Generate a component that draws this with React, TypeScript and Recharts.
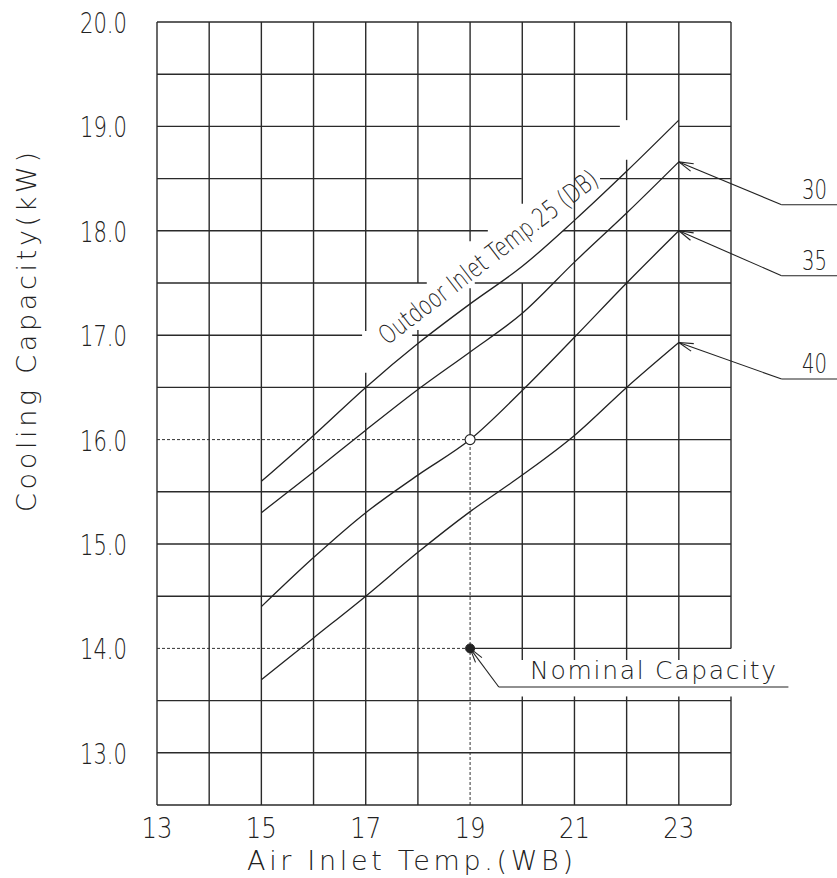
import React from 'react';
import { LineChart, Line, XAxis, YAxis, ReferenceLine, ReferenceDot } from 'recharts';

// Air inlet wet-bulb temperature (°C WB)
const airInletWB = [15, 16, 17, 18, 19, 20, 21, 22, 23];
// Cooling capacity (kW) per outdoor inlet temperature (°C DB)
const capOutdoor25 = [15.6, 16.04, 16.5, 16.92, 17.3, 17.66, 18.1, 18.57, 19.06];
const capOutdoor30 = [15.3, 15.69, 16.09, 16.48, 16.84, 17.21, 17.7, 18.17, 18.66];
const capOutdoor35 = [14.4, 14.87, 15.3, 15.66, 16.0, 16.47, 16.98, 17.5, 18.0];
const capOutdoor40 = [13.7, 14.1, 14.5, 14.92, 15.31, 15.66, 16.04, 16.5, 16.93];

const xTicks = [13, 15, 17, 19, 21, 23];
const yTicks = [13, 14, 15, 16, 17, 18, 19, 20];
const curveLabels = ['30', '35', '40'];
const curveEnds = [capOutdoor30, capOutdoor35, capOutdoor40].map((s) => s[s.length - 1]);
const ratedPoint = { x: 19, y: 16 };
const nominalPoint = { x: 19, y: 14 };

const X_MIN = 13, X_MAX = 24, Y_MIN = 12.5, Y_MAX = 20;

// where the leader lines bend, in data units
const leaderKnees = [18.25, 17.57, 16.58];
const KNEE_X = 24.97, LEADER_END_X = 26.1, LABEL_X = 25.6;
const nominalKnee = { x: 19.55, y: 13.63, endX: 25.1, textX: 20.15 };
const outdoorTextAnchor = { x: 17.41, y: 16.9 };

// gaps cleared in the grid around the annotations
const vGaps: Record<number, [number, number][]> = {
  17: [[16.64, 17.04]],
  18: [[17.05, 17.5]],
  19: [[17.45, 17.9]],
  20: [[17.5, 18.26], [13.54, 13.89]],
  21: [[13.54, 13.89]],
  22: [[18.68, 19.06], [13.54, 13.89]],
  23: [[13.54, 13.89]],
  24: [[13.54, 14.0]],
};
const hGaps: Record<number, [number, number][]> = {
  19: [[21.87, 23.0]],
  18.5: [[19.99, 21.49]],
  18: [[19.34, 20.78]],
  17.5: [[18.17, 19.09]],
  17: [[16.93, 17.89]],
};

const data = airInletWB.map((t, i) => ({
  t,
  c25: capOutdoor25[i],
  c30: capOutdoor30[i],
  c35: capOutdoor35[i],
  c40: capOutdoor40[i],
}));

const INK = '#222';
const FONT = '"DejaVu Sans", sans-serif';

function subtract(lo: number, hi: number, gaps: [number, number][]) {
  const out: [number, number][] = [];
  let cur = lo;
  [...gaps].sort((a, b) => a[0] - b[0]).forEach(([a, b]) => {
    if (a > cur) out.push([cur, a]);
    cur = Math.max(cur, b);
  });
  if (cur < hi) out.push([cur, hi]);
  return out;
}

type Seg = { x1: number; y1: number; x2: number; y2: number; dashed?: boolean };

function buildGrid(): Seg[] {
  const segs: Seg[] = [];
  for (let x = X_MIN; x <= X_MAX; x++) {
    const gaps = [...(vGaps[x] || [])];
    if (x === ratedPoint.x) {
      gaps.push([Y_MIN, ratedPoint.y]);
      segs.push({ x1: x, y1: Y_MIN, x2: x, y2: ratedPoint.y, dashed: true });
    }
    subtract(Y_MIN, Y_MAX, gaps).forEach(([a, b]) => segs.push({ x1: x, y1: a, x2: x, y2: b }));
  }
  for (let y = Y_MIN; y <= Y_MAX + 1e-9; y += 0.5) {
    const gaps = [...(hGaps[y] || [])];
    if (y === ratedPoint.y || y === nominalPoint.y) {
      gaps.push([X_MIN, ratedPoint.x]);
      segs.push({ x1: X_MIN, y1: y, x2: ratedPoint.x, y2: y, dashed: true });
    }
    subtract(X_MIN, X_MAX, gaps).forEach(([a, b]) => segs.push({ x1: a, y1: y, x2: b, y2: y }));
  }
  return segs;
}

const gridSegs = buildGrid();

const ArrowLeader = (props: any) => {
  const { x1, y1, x2, y2 } = props;
  const ang = Math.atan2(y2 - y1, x2 - x1);
  const len = 15;
  const spread = 0.27;
  const wa = [x1 + len * Math.cos(ang - spread), y1 + len * Math.sin(ang - spread)];
  const wb = [x1 + len * Math.cos(ang + spread), y1 + len * Math.sin(ang + spread)];
  return (
    <g stroke={INK} strokeWidth={1.1} fill="none">
      <line x1={x1} y1={y1} x2={x2} y2={y2} />
      <line x1={x1} y1={y1} x2={wa[0]} y2={wa[1]} />
      <line x1={x1} y1={y1} x2={wb[0]} y2={wb[1]} />
    </g>
  );
};

const textProps = {
  fontFamily: FONT,
  fontWeight: 200,
  fill: INK,
};

const XTick = (props: any) => {
  const { x, y, payload } = props;
  return (
    <text x={x} y={y + 33} textAnchor="middle" fontSize={29} textLength={31} lengthAdjust="spacingAndGlyphs" {...textProps}>
      {payload.value}
    </text>
  );
};

const YTick = (props: any) => {
  const { x, y, payload } = props;
  return (
    <text x={x - 30} y={y + 11} textAnchor="end" fontSize={29} textLength={47} lengthAdjust="spacingAndGlyphs" {...textProps}>
      {Number(payload.value).toFixed(1)}
    </text>
  );
};

export default function App() {
  return (
    <div style={{ width: 837, height: 878, background: '#fff' }}>
      <style>{'body{margin:0;background:#fff}'}</style>
      <LineChart width={837} height={878} data={data} margin={{ top: 22, right: 106, bottom: 0, left: 0 }}>
        <XAxis
          type="number"
          dataKey="t"
          domain={[X_MIN, X_MAX]}
          ticks={xTicks}
          allowDataOverflow
          axisLine={false}
          tickLine={false}
          tickSize={0}
          tickMargin={0}
          height={73}
          tick={<XTick />}
          label={{
            content: (p: any) => {
              const vb = p.viewBox;
              return (
                <text x={vb.x + 90} y={vb.y + 65} fontSize={27} textLength={326} lengthAdjust="spacing" {...textProps}>
                  Air Inlet Temp.(WB)
                </text>
              );
            },
          }}
        />
        <YAxis
          type="number"
          domain={[Y_MIN, Y_MAX]}
          ticks={yTicks}
          allowDataOverflow
          axisLine={false}
          tickLine={false}
          tickSize={0}
          tickMargin={0}
          width={157}
          tick={<YTick />}
          label={{
            content: (p: any) => {
              const vb = p.viewBox;
              const cx = vb.x + 36;
              const cy = vb.y + 310;
              return (
                <text x={cx} y={cy} textAnchor="middle" fontSize={27} textLength={360} lengthAdjust="spacing" transform={`rotate(-90 ${cx} ${cy})`} {...textProps}>
                  Cooling Capacity(kW)
                </text>
              );
            },
          }}
        />

        {gridSegs.map((s, i) => (
          <ReferenceLine
            key={`g${i}`}
            segment={[{ x: s.x1, y: s.y1 }, { x: s.x2, y: s.y2 }]}
            stroke={s.dashed ? '#333' : '#2a2a2a'}
            strokeWidth={s.dashed ? 1 : 1.4}
            strokeDasharray={s.dashed ? '3 2' : undefined}
            ifOverflow="visible"
          />
        ))}

        <Line type="monotone" dataKey="c25" stroke={INK} strokeWidth={1.3} dot={false} isAnimationActive={false} />
        <Line type="monotone" dataKey="c30" stroke={INK} strokeWidth={1.3} dot={false} isAnimationActive={false} />
        <Line type="monotone" dataKey="c35" stroke={INK} strokeWidth={1.3} dot={false} isAnimationActive={false} />
        <Line type="monotone" dataKey="c40" stroke={INK} strokeWidth={1.3} dot={false} isAnimationActive={false} />

        {curveLabels.map((lab, i) => (
          <ReferenceLine
            key={`lead${lab}`}
            segment={[{ x: 23, y: curveEnds[i] }, { x: KNEE_X, y: leaderKnees[i] }]}
            shape={<ArrowLeader />}
            ifOverflow="visible"
          />
        ))}
        {curveLabels.map((lab, i) => (
          <ReferenceLine
            key={`ul${lab}`}
            segment={[{ x: KNEE_X, y: leaderKnees[i] }, { x: LEADER_END_X, y: leaderKnees[i] }]}
            stroke={INK}
            strokeWidth={1.1}
            ifOverflow="visible"
          />
        ))}
        {curveLabels.map((lab, i) => (
          <ReferenceDot
            key={`lab${lab}`}
            x={LABEL_X}
            y={leaderKnees[i]}
            r={0}
            ifOverflow="visible"
            shape={(p: any) => (
              <text x={p.cx} y={p.cy - 6} textAnchor="middle" fontSize={26} textLength={25} lengthAdjust="spacingAndGlyphs" {...textProps}>
                {lab}
              </text>
            )}
          />
        ))}

        <ReferenceLine
          segment={[{ x: nominalPoint.x, y: nominalPoint.y }, { x: nominalKnee.x, y: nominalKnee.y }]}
          shape={<ArrowLeader />}
          ifOverflow="visible"
        />
        <ReferenceLine
          segment={[{ x: nominalKnee.x, y: nominalKnee.y }, { x: nominalKnee.endX, y: nominalKnee.y }]}
          stroke={INK}
          strokeWidth={1.1}
          ifOverflow="visible"
        />
        <ReferenceDot
          x={nominalKnee.textX}
          y={nominalKnee.y}
          r={0}
          ifOverflow="visible"
          shape={(p: any) => (
            <text x={p.cx} y={p.cy - 8} fontSize={25} textLength={246} lengthAdjust="spacing" {...textProps}>
              Nominal Capacity
            </text>
          )}
        />

        <ReferenceDot
          x={outdoorTextAnchor.x}
          y={outdoorTextAnchor.y}
          r={0}
          ifOverflow="visible"
          shape={(p: any) => (
            <text
              x={p.cx}
              y={p.cy}
              fontSize={26}
              textLength={268}
              lengthAdjust="spacingAndGlyphs"
              transform={`rotate(-37.4 ${p.cx} ${p.cy})`}
              {...textProps}
            >
              Outdoor Inlet Temp.25 (DB)
            </text>
          )}
        />

        <ReferenceDot x={ratedPoint.x} y={ratedPoint.y} r={5} fill="#fff" stroke={INK} strokeWidth={1.1} ifOverflow="visible" />
        <ReferenceDot x={nominalPoint.x} y={nominalPoint.y} r={4.5} fill={INK} stroke={INK} strokeWidth={1} ifOverflow="visible" />
      </LineChart>
    </div>
  );
}
